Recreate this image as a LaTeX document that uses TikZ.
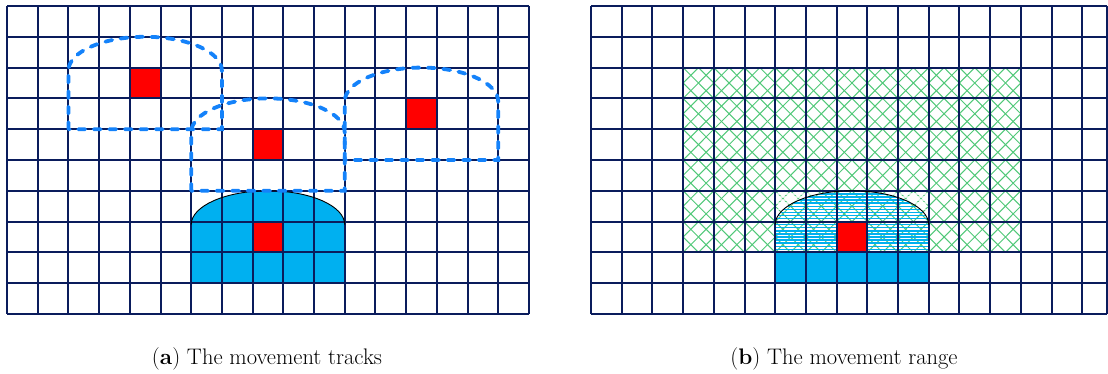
\documentclass[tikz,border=0pt]{standalone}
\usetikzlibrary{calc}
\definecolor{gridnavy}{RGB}{10,28,92}
\definecolor{domefill}{RGB}{0,176,240}
\definecolor{dashblue}{RGB}{20,130,250}
\definecolor{hatchgreen}{RGB}{80,200,120}
\definecolor{redsq}{RGB}{255,0,0}
\tikzset{
  gridline/.style={draw=gridnavy, line width=2pt},
  redcell/.style={fill=redsq},
  domestyle/.style={fill=domefill},
  domeedge/.style={draw=black, line width=0.9pt},
  trackline/.style={draw=dashblue, line width=3.8pt, line cap=round, dash pattern=on 7pt off 8.5pt},
  greenline/.style={draw=hatchgreen, line width=1pt},
  stripe/.style={draw=domefill, line width=1.4pt},
  whitestripe/.style={draw=white, line width=1.4pt, opacity=0.75},
  caption/.style={font=\fontsize{22.5}{27}\selectfont, inner sep=0pt}
}
\begin{document}
\begin{tikzpicture}
\useasboundingbox (0,0) rectangle (1108pt,-374pt);
% ---------- panel (a) ----------
\begin{scope}[shift={(7pt,-6pt)}, x=30.7pt, y=-30.8pt]
  \fill[domestyle] (6,9) -- (6,7.1) arc[start angle=180, end angle=0, x radius=76.75pt, y radius=33.9pt] -- (11,9) -- cycle;
  \fill[redcell] (4,2) rectangle (5,3);
  \fill[redcell] (8,4) rectangle (9,5);
  \fill[redcell] (13,3) rectangle (14,4);
  \fill[redcell] (8,7) rectangle (9,8);
  \foreach \i in {0,...,17} \draw[gridline] (\i,0) -- (\i,10);
  \foreach \j in {0,...,10} \draw[gridline] (0,\j) -- (17,\j);
  \draw[domeedge] (6,7.1) arc[start angle=180, end angle=0, x radius=76.75pt, y radius=33.9pt];
  \draw[trackline] (2,4) -- (2,2.1) arc[start angle=180, end angle=0, x radius=76.75pt, y radius=33.9pt] -- (7,4) -- cycle;
  \draw[trackline] (6,6) -- (6,4.1) arc[start angle=180, end angle=0, x radius=76.75pt, y radius=33.9pt] -- (11,6) -- cycle;
  \draw[trackline] (11,5) -- (11,3.1) arc[start angle=180, end angle=0, x radius=76.75pt, y radius=33.9pt] -- (16,5) -- cycle;
\end{scope}
% ---------- panel (b) ----------
\begin{scope}[shift={(591pt,-6pt)}, x=30.7pt, y=-30.8pt]
  \begin{scope}
    \clip (3,2) rectangle (14,8);
    \foreach \k in {-12,...,30} \draw[greenline] (\k/2,0) -- ++(10,10);
    \foreach \m in {6,...,48} \draw[greenline] (\m/2,0) -- ++(-10,10);
  \end{scope}
  \begin{scope}
    \clip (6,6) rectangle (11,8);
    \foreach \s in {0,...,20} \draw[whitestripe] (6,6+\s*0.1) -- (11,6+\s*0.1);
  \end{scope}
  \begin{scope}
    \clip (6,8) -- (6,7.1) arc[start angle=180, end angle=0, x radius=76.75pt, y radius=33.9pt] -- (11,8) -- cycle;
    \foreach \s in {0,...,20} \draw[stripe] (6,6+\s*0.1) -- (11,6+\s*0.1);
  \end{scope}
  \fill[domestyle] (6,8) rectangle (11,9);
  \fill[redcell] (8,7) rectangle (9,8);
  \foreach \i in {0,...,16} \draw[gridline] (\i,0) -- (\i,10);
  \draw[gridline] (16.81,0) -- (16.81,10);
  \foreach \j in {0,...,10} \draw[gridline] (0,\j) -- (16.81,\j);
  \draw[domeedge] (6,7.1) arc[start angle=180, end angle=0, x radius=76.75pt, y radius=33.9pt];
\end{scope}
% ---------- captions ----------
\node[caption, anchor=base] (capa) at (267pt,-364pt) {(\textbf{a}) The movement tracks};
\node[caption, anchor=base] (capb) at (844pt,-364pt) {(\textbf{b}) The movement range};
\end{tikzpicture}
\end{document}
